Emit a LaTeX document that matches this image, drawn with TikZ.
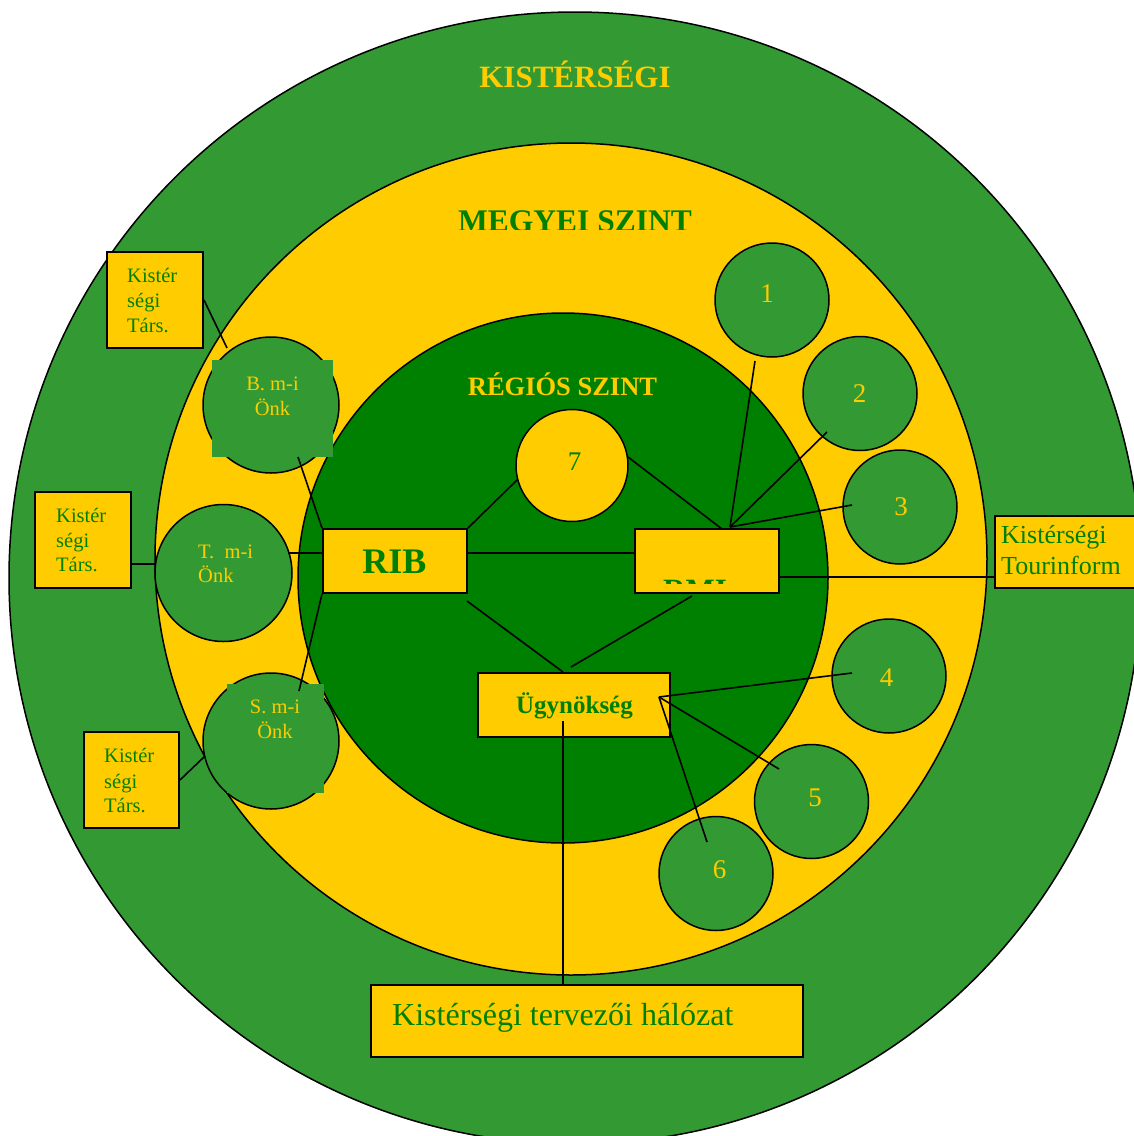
\documentclass[tikz,border=0pt]{standalone}
\usepackage{fontspec}
\setmainfont{Liberation Serif}
\definecolor{mgreen}{RGB}{51,153,51}
\definecolor{dgreen}{RGB}{0,128,0}
\definecolor{yel}{RGB}{255,204,0}
\begin{document}
\begin{tikzpicture}[x=1pt,y=-1pt,
  ring/.style={draw=black,line width=1.5pt},
  sc/.style={circle,draw=black,line width=1.5pt,fill=mgreen,minimum size=114pt,inner sep=0pt},
  ybox/.style={rectangle,draw=black,line width=2pt,fill=yel,inner sep=0pt},
  conn/.style={draw=black,line width=1.6pt},
  smalltxt/.style={inner sep=0pt,font=\fontsize{20.5}{25}\selectfont},
  numtxt/.style={inner sep=0pt,anchor=base,text=yel,font=\fontsize{27}{30}\selectfont},
  greentxt/.style={smalltxt,anchor=base west,text=dgreen},
  yeltxt/.style={smalltxt,anchor=base,text=yel},
  ]
\useasboundingbox (0,0) rectangle (1134,1136);
\clip (0,0) rectangle (1134,1136);
\fill[white] (0,0) rectangle (1134,1136);
% rings
\filldraw[fill=mgreen,ring] (575,578) circle[radius=566];
\filldraw[fill=yel,ring] (571,559) circle[radius=416];
\filldraw[fill=dgreen,ring] (563,578) circle[radius=265];
% level titles
\node[inner sep=0pt,anchor=base,text=yel,font=\bfseries\fontsize{31}{34}\selectfont] (tkist) at (575,87) {KISTÉRSÉGI};
\begin{scope}
\clip (300,150) rectangle (850,229.5);
\node[inner sep=0pt,anchor=base,text=dgreen,font=\bfseries\fontsize{31.5}{34}\selectfont] (tmegy) at (575,231.5) {MEGYEI SZINT};
\end{scope}
\node[inner sep=0pt,anchor=base,text=yel,font=\bfseries\fontsize{26.5}{30}\selectfont] (treg) at (562.5,395) {RÉGIÓS SZINT};
% left boxes
\node[ybox,minimum width=96pt,minimum height=96pt] (tb1) at (155,300) {};
\node[greentxt] (tb1a) at (127,282) {Kistér};
\node[greentxt] (tb1b) at (127,307) {ségi};
\node[greentxt] (tb1c) at (127,332) {Társ.};
\node[ybox,minimum width=96pt,minimum height=96pt] (tb2) at (83,540) {};
\node[greentxt] (tb2a) at (56,522) {Kistér};
\node[greentxt] (tb2b) at (56,547) {ségi};
\node[greentxt] (tb2c) at (56,571) {Társ.};
\node[ybox,minimum width=95pt,minimum height=96pt] (tb3) at (131.5,780) {};
\node[greentxt] (tb3a) at (104,762) {Kistér};
\node[greentxt] (tb3b) at (104,788) {ségi};
\node[greentxt] (tb3c) at (104,812) {Társ.};
% municipality circles
\node[sc,minimum size=136pt] (bonk) at (271,405) {};
\node[rectangle,fill=mgreen,minimum width=121pt,minimum height=97pt,inner sep=0pt] (bbox) at (272.5,408.5) {};
\node[yeltxt] (bt1) at (272.5,390) {B. m-i};
\node[yeltxt] (bt2) at (272.5,415) {Önk};
\node[sc,minimum size=137pt] (tonk) at (223.5,573) {};
\node[smalltxt,anchor=base west,text=yel] (tt1) at (198,558) {T.\ \ m-i};
\node[smalltxt,anchor=base west,text=yel] (tt2) at (198,582) {Önk};
\node[sc,minimum size=136pt] (sonk) at (271,741) {};
\node[rectangle,fill=mgreen,minimum width=97pt,minimum height=109pt,inner sep=0pt] (sbox) at (275.5,738.5) {};
\node[yeltxt] (st1) at (275,713) {S. m-i};
\node[yeltxt] (st2) at (275,738) {Önk};
% regional
\node[ybox,minimum width=144pt,minimum height=64pt] (rib) at (395,561) {};
\node[inner sep=0pt,anchor=base,text=dgreen,font=\bfseries\fontsize{36}{40}\selectfont] (ribt) at (394.5,573) {RIB};
\node[circle,draw=black,line width=1.5pt,fill=yel,minimum size=112pt,inner sep=0pt] (c7) at (572,465.5) {};
\node[numtxt,text=dgreen] (n7) at (574.5,470) {7};
\node[ybox,minimum width=144pt,minimum height=64pt] (rmi) at (707,561) {};
\begin{scope}
\clip (636,530) rectangle (778,583.5);
\node[inner sep=0pt,anchor=base west,text=dgreen,font=\bfseries\fontsize{31}{34}\selectfont] (rmit) at (663,600.5) {RMI};
\end{scope}
\node[ybox,minimum width=192pt,minimum height=64pt] (ugy) at (574,705) {};
\node[inner sep=0pt,anchor=base,text=dgreen,font=\bfseries\fontsize{25}{28}\selectfont] (ugyt) at (574.5,713) {Ügynökség};
% numbered circles
\node[sc] (c1) at (772,300) {};
\node[numtxt] (n1) at (767,302) {1};
\node[sc] (c2) at (860,393.5) {};
\node[numtxt] (n2) at (859.5,402) {2};
\node[sc] (c3) at (900,507) {};
\node[numtxt] (n3) at (901,515) {3};
\node[sc] (c4) at (889,676) {};
\node[numtxt] (n4) at (886.5,686) {4};
\node[sc] (c5) at (811.5,801.5) {};
\node[numtxt] (n5) at (815,806) {5};
\node[sc] (c6) at (716,873.5) {};
\node[numtxt] (n6) at (719.5,878) {6};
% right and bottom boxes
\node[ybox,minimum width=150pt,minimum height=72pt] (tour) at (1070,552) {};
\node[inner sep=0pt,anchor=base west,text=dgreen,font=\fontsize{26}{31}\selectfont] (tour1) at (1001,543) {Kistérségi};
\node[inner sep=0pt,anchor=base west,text=dgreen,font=\fontsize{26}{31}\selectfont] (tour2) at (1001,574) {Tourinform};
\node[ybox,minimum width=432pt,minimum height=72pt] (terv) at (587,1021) {};
\node[inner sep=0pt,anchor=base west,text=dgreen,font=\fontsize{32}{36}\selectfont] (tervt) at (392,1025) {Kistérségi tervezői hálózat};
% connector end points
\coordinate (a1) at (227,348);
\coordinate (a2s) at (131,564);
\coordinate (a2e) at (155,564);
\coordinate (a3) at (205,756);
\coordinate (tR) at (288,553);
\coordinate (ribL) at (323,553);
\coordinate (bB) at (298,457);
\coordinate (sT) at (299,691);
\coordinate (c7a) at (517,480);
\coordinate (c7b) at (628,457);
\coordinate (hub) at (730,527);
\coordinate (rmiA) at (722,529);
\coordinate (ribR) at (467,553);
\coordinate (rmiL) at (635,553);
\coordinate (ribD) at (467,601);
\coordinate (ugA) at (563,672);
\coordinate (rmiD) at (692,596);
\coordinate (ugB) at (571,667);
\coordinate (e1) at (755,361);
\coordinate (e2) at (827,432);
\coordinate (e3) at (852,505);
\coordinate (rmiR) at (779,577);
\coordinate (tourL) at (995,577);
\coordinate (ughub) at (659,697);
\coordinate (e4) at (852,673);
\coordinate (e5) at (779,769);
\coordinate (e6) at (707,842);
\coordinate (ugD) at (563,721);
\coordinate (tervT) at (563,985);
% connectors
\draw[conn] (tb1.east) -- (a1);
\draw[conn] (a2s) -- (a2e);
\draw[conn] (tb3.east) -- (a3);
\draw[conn] (tR) -- (ribL);
\draw[conn] (bB) -- (rib.north west);
\draw[conn] (rib.south west) -- (sT);
\draw[conn] (rib.north east) -- (c7a);
\draw[conn] (c7b) -- (rmiA);
\draw[conn] (ribR) -- (rmiL);
\draw[conn] (ribD) -- (ugA);
\draw[conn] (rmiD) -- (ugB);
\draw[conn] (hub) -- (e1);
\draw[conn] (hub) -- (e2);
\draw[conn] (hub) -- (e3);
\draw[conn] (rmiR) -- (tourL);
\draw[conn] (ughub) -- (e4);
\draw[conn] (ughub) -- (e5);
\draw[conn] (ughub) -- (e6);
\draw[conn] (ugD) -- (tervT);
\end{tikzpicture}
\end{document}
